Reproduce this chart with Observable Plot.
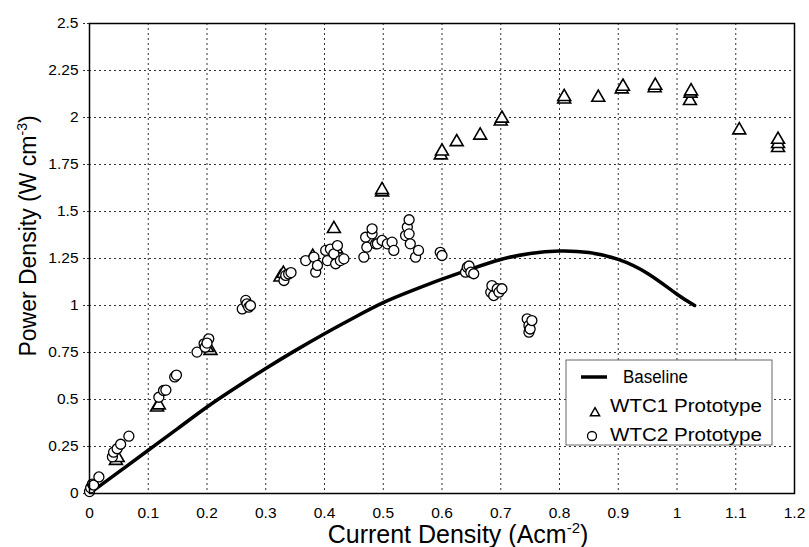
<!DOCTYPE html>
<html>
<head>
<meta charset="utf-8">
<script src="https://cdn.jsdelivr.net/npm/d3@7"></script>
<script src="https://cdn.jsdelivr.net/npm/@observablehq/plot@0.6"></script>
<style>
  html, body { margin: 0; padding: 0; background: white; }
  #chart { width: 809px; height: 547px; }
</style>
</head>
<body>
<div id="chart"></div>
<script>
// Baseline curve
const baselineX = [0, 0.05, 0.1, 0.15, 0.2, 0.25, 0.3, 0.35, 0.4, 0.45, 0.5, 0.55, 0.6, 0.65, 0.7, 0.75, 0.8, 0.85, 0.9, 0.95, 1.0, 1.03];
const baselineY = [0, 0.115, 0.23, 0.345, 0.46, 0.565, 0.665, 0.76, 0.85, 0.935, 1.015, 1.08, 1.14, 1.195, 1.245, 1.277, 1.29, 1.282, 1.245, 1.17, 1.06, 1.0];

// WTC1 Prototype (triangles)
const wtc1X = [0.045, 0.048, 0.115, 0.118, 0.206, 0.2, 0.325, 0.33, 0.38, 0.416, 0.42, 0.498, 0.498, 0.598, 0.6, 0.625, 0.665, 0.7, 0.702, 0.808, 0.808, 0.866, 0.906, 0.908, 0.962, 0.963, 1.022, 1.023, 1.024, 1.106, 1.172, 1.172, 1.172];
const wtc1Y = [0.175, 0.19, 0.459, 0.47, 0.76, 0.775, 1.15, 1.17, 1.26, 1.408, 1.30, 1.603, 1.615, 1.80, 1.82, 1.87, 1.905, 1.98, 1.995, 2.097, 2.11, 2.106, 2.151, 2.165, 2.157, 2.17, 2.089, 2.128, 2.14, 1.933, 1.839, 1.86, 1.883];

// WTC2 Prototype (circles)
const wtc2X = [0.0, 0.002, 0.005, 0.007, 0.016,
  0.039, 0.041, 0.047, 0.053, 0.067,
  0.118, 0.126, 0.13, 0.145, 0.148,
  0.183, 0.195, 0.197, 0.203, 0.2,
  0.26, 0.266, 0.268, 0.271, 0.274,
  0.331, 0.334, 0.339, 0.343,
  0.368, 0.382, 0.385, 0.388, 0.402, 0.405, 0.41, 0.416, 0.419, 0.422, 0.427, 0.433,
  0.467, 0.47, 0.472, 0.481, 0.481, 0.487, 0.49, 0.498, 0.507, 0.515, 0.518,
  0.538, 0.541, 0.544, 0.544, 0.546, 0.555, 0.56,
  0.597, 0.6,
  0.64, 0.643, 0.646, 0.649, 0.654,
  0.683, 0.685, 0.688, 0.694, 0.697, 0.702,
  0.745, 0.748, 0.748, 0.75, 0.753];
const wtc2Y = [0.01, 0.03, 0.05, 0.045, 0.088,
  0.195, 0.22, 0.238, 0.262, 0.305,
  0.512, 0.548, 0.55, 0.62, 0.63,
  0.752, 0.796, 0.778, 0.823, 0.8,
  0.982, 1.027, 1.009, 0.991, 1.0,
  1.133, 1.16, 1.168, 1.175,
  1.239, 1.257, 1.177, 1.213, 1.293, 1.239, 1.30, 1.275, 1.222, 1.319, 1.239, 1.248,
  1.257, 1.363, 1.31, 1.381, 1.408, 1.328, 1.328, 1.346, 1.328, 1.337, 1.293,
  1.372, 1.417, 1.456, 1.381, 1.328, 1.257, 1.293,
  1.283, 1.266,
  1.177, 1.204, 1.21, 1.177, 1.169,
  1.071, 1.106, 1.053, 1.089, 1.071, 1.089,
  0.929, 0.894, 0.858, 0.875, 0.92];

const xTicks = [0, 0.1, 0.2, 0.3, 0.4, 0.5, 0.6, 0.7, 0.8, 0.9, 1, 1.1, 1.2];
const yTicks = [0, 0.25, 0.5, 0.75, 1, 1.25, 1.5, 1.75, 2, 2.25, 2.5];
const legendLabels = ["Baseline", "WTC1 Prototype", "WTC2 Prototype"];

const baseline = baselineX.map((x, i) => ({x, y: baselineY[i]}));
const wtc1 = wtc1X.map((x, i) => ({x, y: wtc1Y[i]}));
const wtc2 = wtc2X.map((x, i) => ({x, y: wtc2Y[i]}));

const font = "'Liberation Sans', Arial, sans-serif";

const chart = Plot.plot({
  width: 809,
  height: 547,
  marginLeft: 89,
  marginRight: 15,
  marginTop: 23,
  marginBottom: 54,
  style: {fontFamily: font, fontSize: "15.5px", color: "black", background: "white"},
  x: {domain: [0, 1.2], label: null},
  y: {domain: [0, 2.5], label: null},
  marks: [
    Plot.gridX(xTicks, {stroke: "#333", strokeOpacity: 1, strokeDasharray: "2,3"}),
    Plot.gridY(yTicks, {stroke: "#333", strokeOpacity: 1, strokeDasharray: "2,3"}),
    Plot.axisY(yTicks, {tickSize: 6, tickPadding: 5, stroke: "#333", strokeDasharray: "2,2", fontSize: 15.5, tickFormat: d => String(d)}),
    Plot.axisX(xTicks, {tickSize: 0, tickPadding: 13, fontSize: 15.5, tickFormat: d => String(d)}),
    Plot.line(baseline, {x: "x", y: "y", curve: "natural", stroke: "black", strokeWidth: 3.5}),
    Plot.dot(wtc1, {x: "x", y: "y", symbol: "triangle", r: 4.8, stroke: "black", fill: "white", strokeWidth: 1.6}),
    Plot.dot(wtc2, {x: "x", y: "y", r: 5, stroke: "black", fill: "white", strokeWidth: 1.3}),
    Plot.frame({stroke: "black", strokeWidth: 1.5})
  ]
});

document.getElementById("chart").appendChild(chart);

const svg = d3.select(chart);

// X axis title
const xt = svg.append("text")
  .attr("x", 458).attr("y", 543)
  .attr("text-anchor", "middle")
  .style("font-family", font).style("font-size", "25px").attr("fill", "black");
xt.append("tspan").text("Current Density (Acm");
xt.append("tspan").attr("dy", -10).style("font-size", "15px").text("-2");
xt.append("tspan").attr("dy", 10).text(")");

// Y axis title
const yt = svg.append("text")
  .attr("transform", "translate(36,236) rotate(-90)")
  .attr("text-anchor", "middle")
  .style("font-family", font).style("font-size", "23px").attr("fill", "black");
yt.append("tspan").text("Power Density (W cm");
yt.append("tspan").attr("dy", -9).style("font-size", "14px").text("-3");
yt.append("tspan").attr("dy", 9).text(")");

// Legend
const lg = svg.append("g").attr("transform", "translate(566,360)");
lg.append("rect").attr("width", 206).attr("height", 85).attr("fill", "white").attr("stroke", "#666").attr("stroke-width", 1);
lg.append("line").attr("x1", 15).attr("x2", 41).attr("y1", 17).attr("y2", 17).attr("stroke", "black").attr("stroke-width", 3.5);
lg.append("path").attr("d", d3.symbol(d3.symbolTriangle2, 60)()).attr("transform", "translate(29,53)")
  .attr("fill", "white").attr("stroke", "black").attr("stroke-width", 1.5);
lg.append("circle").attr("cx", 26).attr("cy", 76).attr("r", 4.5).attr("fill", "white").attr("stroke", "black").attr("stroke-width", 1.3);
const lx = [57, 44, 44];
const ly = [17, 46, 75];
const lw = [65, 152, 152];
legendLabels.forEach((t, i) => {
  lg.append("text").attr("x", lx[i]).attr("y", ly[i]).attr("dy", "0.35em")
    .attr("text-anchor", "start")
    .attr("textLength", lw[i]).attr("lengthAdjust", "spacingAndGlyphs")
    .style("font-family", font).style("font-size", "18px").attr("fill", "black").text(t);
});
</script>
</body>
</html>
